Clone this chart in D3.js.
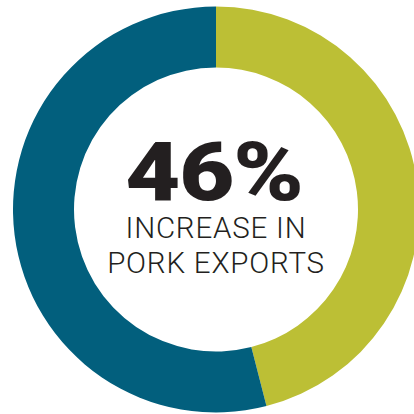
<!DOCTYPE html>
<html>
<head>
<meta charset="utf-8">
<script src="https://cdn.jsdelivr.net/npm/d3@7"></script>
<style>
  html, body { margin: 0; padding: 0; background: #fff; }
</style>
</head>
<body>
<div id="chart"></div>
<script>
const categories = ["Increase", "Rest"];
const values = [46, 54];
const colors = ["#bcbf35", "#025f7d"];
const headline = "46%";
const subLines = ["INCREASE IN", "PORK EXPORTS"];

const width = 414;
const height = 414;
const cx = 216, cy = 209.5;
const outerR = 203, innerR = 142;

const svg = d3.select("#chart")
  .append("svg")
  .attr("width", width)
  .attr("height", height);

const g = svg.append("g")
  .attr("transform", `translate(${cx},${cy})`);

const pie = d3.pie().sort(null).value(d => d);
const arc = d3.arc().innerRadius(innerR).outerRadius(outerR);

g.selectAll("path")
  .data(pie(values))
  .join("path")
  .attr("d", arc)
  .attr("fill", (d, i) => colors[i]);

// big number, stretched a bit to get the wide heavy look
g.append("text")
  .attr("transform", "translate(-2,-9.5) scale(1.16,1)")
  .attr("text-anchor", "middle")
  .style("font-family", "Roboto, sans-serif")
  .style("font-weight", 900)
  .style("font-size", "82px")
  .style("letter-spacing", "-1px")
  .style("fill", "#231f20")
  .text(headline);

g.selectAll("text.sub")
  .data(subLines)
  .join("text")
  .attr("class", "sub")
  .attr("x", 0)
  .attr("y", (d, i) => 28.5 + i * 35)
  .attr("text-anchor", "middle")
  .style("font-family", "Roboto, sans-serif")
  .style("font-weight", 300)
  .style("font-size", "29.5px")
  .style("letter-spacing", "0.8px")
  .style("fill", "#231f20")
  .text(d => d);
</script>
</body>
</html>
